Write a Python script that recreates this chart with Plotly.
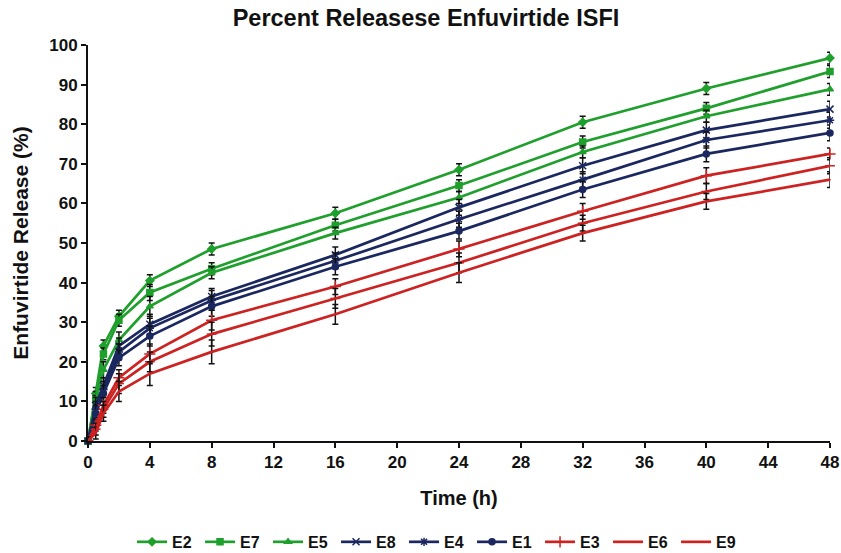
import plotly.graph_objects as go

time_h = [0, 0.5, 1, 2, 4, 8, 16, 24, 32, 40, 48]

series_names = ["E2", "E7", "E5", "E8", "E4", "E1", "E3", "E6", "E9"]

E2 = [0, 12, 24, 31.5, 40.5, 48.5, 57.5, 68.5, 80.5, 89, 96.7]
E7 = [0, 11, 22, 30.5, 37.5, 43.5, 54.5, 64.5, 75.5, 84, 93.3]
E5 = [0, 10, 18, 25.5, 34, 42.5, 52.5, 61.5, 73, 82, 88.8]
E8 = [0, 9, 14, 24, 29.5, 36.5, 47, 59, 69.5, 78.5, 83.8]
E4 = [0, 8, 13, 22.5, 28.5, 35.5, 45.5, 56, 66, 76, 81]
E1 = [0, 7, 12, 21, 26.5, 34, 44, 53, 63.5, 72.5, 77.8]
E3 = [0, 4, 9, 16, 22, 30.5, 39, 48.5, 58, 67, 72.5]
E6 = [0, 3, 8, 14.5, 20, 27, 36, 45, 55, 63, 69.5]
E9 = [0, 2, 7, 12.5, 17, 22.5, 32, 42.5, 52.5, 60.5, 66]

err_E2 = [1, 1.5, 1.5, 1.5, 1.5, 1.5, 1.5, 1.5, 1.5, 1.5, 1.5]
err_E7 = [1, 1.5, 1.5, 1.5, 2, 1.5, 1.5, 1.5, 1.5, 1.5, 1.5]
err_E5 = [1, 1.5, 2, 2, 2.5, 1.5, 1.5, 1.5, 1.5, 1.5, 1.5]
err_E8 = [1, 2, 2, 2, 2.5, 2, 2, 2, 2, 2, 2]
err_E4 = [1, 2, 2, 2, 2.5, 2.5, 2, 2, 2, 2, 2]
err_E1 = [1, 2, 2, 2, 2.5, 2.5, 2, 2, 2, 2, 2]
err_E3 = [1, 1.5, 2, 2, 2.5, 2.5, 2, 2, 2, 2, 1.5]
err_E6 = [1, 1.5, 2, 2.5, 2.5, 3, 2.5, 2.5, 2, 2, 2]
err_E9 = [1, 1.5, 2, 2.5, 3, 3, 2.5, 2.5, 2, 2, 2]

x_ticks = list(range(0, 49, 4))
y_ticks = list(range(0, 101, 10))

values = [E2, E7, E5, E8, E4, E1, E3, E6, E9]
errors = [err_E2, err_E7, err_E5, err_E8, err_E4, err_E1, err_E3, err_E6, err_E9]

GREEN = "#1f9f2c"
NAVY = "#1b2860"
RED = "#cd2222"
colors = [GREEN, GREEN, GREEN, NAVY, NAVY, NAVY, RED, RED, RED]
symbols = ["diamond", "square", "triangle-up", "x-thin-open", "asterisk-open", "circle",
           "cross-thin-open", "line-ew-open", "line-ew-open"]
msizes = [6, 6, 6, 7, 7, 6, 8, 7, 1]

fig = go.Figure()
for name, y, e, c, s, ms in zip(series_names, values, errors, colors, symbols, msizes):
    fig.add_trace(go.Scatter(
        x=time_h, y=y, name=f"<b>{name}</b>", mode="lines+markers",
        line=dict(color=c, width=2.7),
        marker=dict(color=c, symbol=s, size=ms, line=dict(color=c, width=1.5)),
        error_y=dict(type="data", array=e, visible=True, color="#111111",
                     thickness=1.5, width=3),
        cliponaxis=False,
    ))

font_family = "Liberation Sans, Arial, sans-serif"
fig.update_layout(
    width=841, height=553,
    margin=dict(l=88, r=11, t=45, b=112, autoexpand=False),
    paper_bgcolor="white", plot_bgcolor="white",
    title=dict(text="<b>Percent Releasese Enfuvirtide ISFI</b>",
               x=0.5065, xanchor="center", y=0.967, yanchor="middle",
               font=dict(family=font_family, size=23.5, color="#111111")),
    font=dict(family=font_family, color="#111111"),
    xaxis=dict(
        range=[0, 48], tickmode="array", tickvals=x_ticks,
        ticktext=[f"<b>{v}</b>" for v in x_ticks],
        showline=True, linecolor="#111111", linewidth=2,
        ticks="outside", ticklen=5, tickwidth=2, tickcolor="#111111",
        showgrid=False, zeroline=False, automargin=False,
        tickfont=dict(size=17, family=font_family, color="#111111"),
        title=dict(text="<b>Time (h)</b>", standoff=20,
                   font=dict(size=20, family=font_family, color="#111111")),
    ),
    yaxis=dict(
        range=[0, 100], tickmode="array", tickvals=y_ticks,
        ticktext=[f"<b>{v}</b>" for v in y_ticks],
        showline=True, linecolor="#111111", linewidth=2,
        ticks="outside", ticklen=5, tickwidth=2, tickcolor="#111111",
        showgrid=False, zeroline=False, automargin=False,
        tickfont=dict(size=17, family=font_family, color="#111111"),
        title=dict(text="<b>Enfuvirtide Release (%)</b>", standoff=15,
                   font=dict(size=21, family=font_family, color="#111111")),
    ),
    legend=dict(orientation="h", xref="container", yref="container",
                x=0.157, xanchor="left", y=0.02, yanchor="middle",
                font=dict(size=16, family=font_family, color="#111111"),
                itemwidth=30, tracegroupgap=0, entrywidth=23,
                bgcolor="rgba(0,0,0,0)"),
    showlegend=True,
)

fig.write_html("out.html", config={"displayModeBar": False},
               post_script="document.body.style.margin='0';document.body.style.padding='0';")
